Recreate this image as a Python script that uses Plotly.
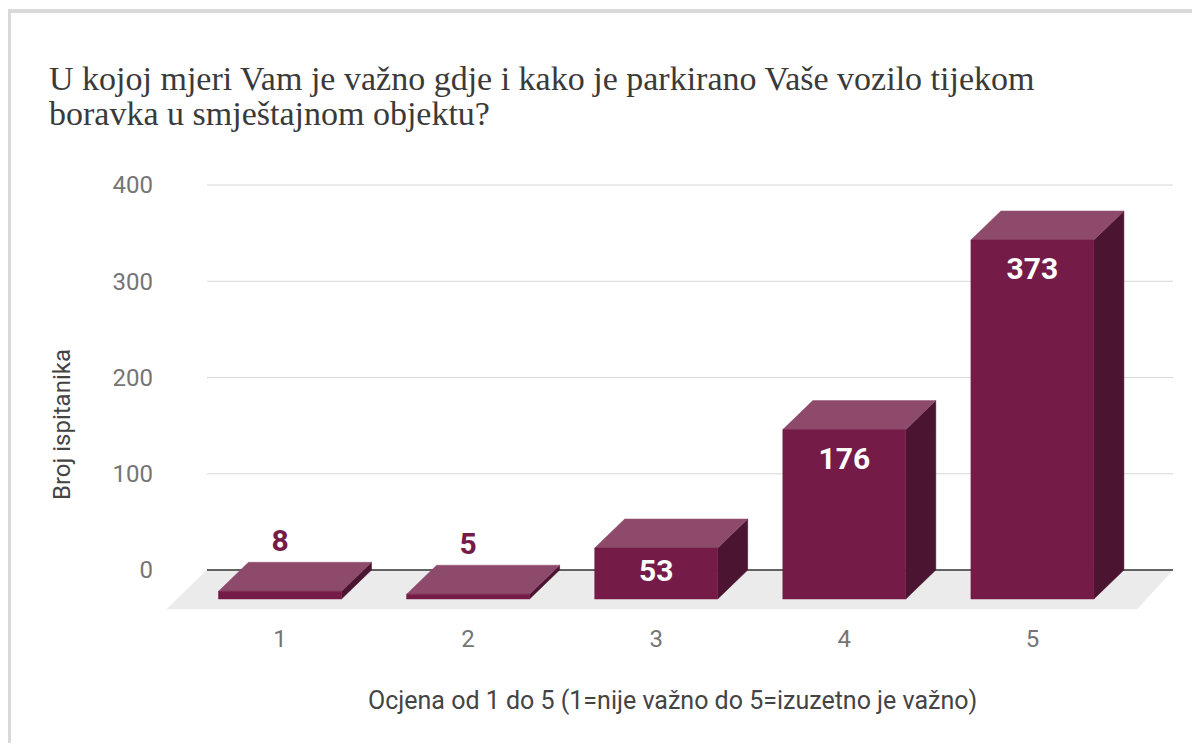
import plotly.graph_objects as go

# ---- data ----
categories = ["1", "2", "3", "4", "5"]
responses = [8, 5, 53, 176, 373]
y_ticks = [0, 100, 200, 300, 400]

title_lines = ["U kojoj mjeri Vam je važno gdje i kako je parkirano Vaše vozilo tijekom",
               "boravka u smještajnom objektu?"]
x_title = "Ocjena od 1 do 5 (1=nije važno do 5=izuzetno je važno)"
y_title = "Broj ispitanika"

# ---- palette ----
FRONT = "#741b47"
TOP = "#8e4a6b"
SIDE = "#4b1430"
FLOOR = "#ebebeb"
GRID = "#d6d6d6"
ZERO = "#333333"
TICK = "#757575"
TEXT = "#444444"

# ---- geometry (pixels -> axis units); page body adds an 8px margin ----
W, H = 1184, 735
L, R, T, B = 159, 19, 162, 131          # plot margins
plot_w, plot_h = W - L - R, H - T - B
px_per_cat = 188.1
x0 = 1 - (272 - L) / px_per_cat
x1 = x0 + plot_w / px_per_cat
px_per_unit = 0.9625                     # y pixels per respondent
y_zero_px = 562 - T                      # zero line from top of plot
y1 = y_zero_px / px_per_unit
y0 = -(plot_h - y_zero_px) / px_per_unit

ux = 1 / px_per_cat                      # x units per pixel
uy = 1 / px_per_unit                     # y units per pixel
bar_w = 123 * ux
dx, dy = 30 * ux, 29 * uy                # bar depth
fdx, fdy = 40 * ux, 39 * uy              # floor depth

fig = go.Figure()


def poly(xs, ys, color):
    fig.add_trace(go.Scatter(
        x=xs + [xs[0]], y=ys + [ys[0]], mode="lines", fill="toself",
        fillcolor=color, line=dict(color=color, width=0.5),
        hoverinfo="skip", showlegend=False,
    ))


# floor
back_l, back_r = x0 + fdx, x1
poly([back_l, back_r, back_r - fdx * 0.9, x0],
     [0, 0, -fdy, -fdy], FLOOR)

# gridlines + zero line on the back plane
for t in y_ticks:
    fig.add_trace(go.Scatter(
        x=[back_l, back_r], y=[t, t], mode="lines",
        line=dict(color=ZERO if t == 0 else GRID, width=1.5 if t == 0 else 1),
        hoverinfo="skip", showlegend=False,
    ))

# 3D bars
for i, v in enumerate(responses):
    c = i + 1
    xl, xr = c - bar_w / 2, c + bar_w / 2
    poly([xr, xr + dx, xr + dx, xr], [-dy, 0, v, v - dy], SIDE)
    poly([xl, xr, xr + dx, xl + dx], [v - dy, v - dy, v, v], TOP)
    poly([xl, xr, xr, xl], [-dy, -dy, v - dy, v - dy], FRONT)

# value labels
lab_x, lab_y, lab_c = [], [], []
for i, v in enumerate(responses):
    front_h = v * px_per_unit
    if front_h > 80:
        y = v - dy - 32 * uy
        col = "white"
    elif front_h > 30:
        y = v / 2 - dy
        col = "white"
    else:
        y = v + 19 * uy
        col = FRONT
    lab_x.append(i + 1)
    lab_y.append(y)
    lab_c.append(col)

fig.add_trace(go.Scatter(
    x=lab_x, y=lab_y, mode="text", text=[str(v) for v in responses],
    textfont=dict(family="Roboto", size=30, color=lab_c, weight="bold"),
    hoverinfo="skip", showlegend=False, cliponaxis=False,
))


def px_x(p):
    return (p - L) / plot_w


def px_y(p):
    return ((H - B) - p) / plot_h


annotations = [
    dict(text=x_title, xref="paper", yref="paper", x=px_x(664), y=px_y(692),
         xanchor="center", yanchor="middle",
         showarrow=False, font=dict(size=25, color=TEXT)),
    dict(text=y_title, xref="paper", yref="paper", x=px_x(54), y=px_y(417),
         xanchor="center", yanchor="middle",
         textangle=-90, showarrow=False, font=dict(size=24, color=TEXT)),
]
for line, yc in zip(title_lines, [70, 105]):
    annotations.append(dict(
        text=line, xref="paper", yref="paper", x=px_x(39), y=px_y(yc),
        xanchor="left", yanchor="middle", showarrow=False,
        font=dict(family="Liberation Serif", size=34, color="#3a3a3a")))

fig.update_layout(
    width=W, height=H,
    margin=dict(l=L, r=R, t=T, b=B),
    paper_bgcolor="white", plot_bgcolor="white",
    font=dict(family="Roboto", color=TEXT),
    xaxis=dict(
        range=[x0, x1], tickvals=[1, 2, 3, 4, 5], ticktext=categories,
        showgrid=False, zeroline=False, showline=False,
        ticks="", ticklabelstandoff=10,
        tickfont=dict(size=24, color=TICK),
    ),
    yaxis=dict(
        range=[y0, y1], tickvals=y_ticks,
        showgrid=False, zeroline=False, showline=False,
        ticks="", ticklabelstandoff=13,
        tickfont=dict(size=24, color=TICK),
    ),
    annotations=annotations,
    shapes=[
        dict(type="line", xref="paper", yref="paper",
             x0=px_x(-1), x1=px_x(W + 10), y0=px_y(3), y1=px_y(3),
             line=dict(color="#d9d9d9", width=4), layer="below"),
        dict(type="line", xref="paper", yref="paper",
             x0=px_x(1), x1=px_x(1), y0=px_y(1), y1=px_y(H + 10),
             line=dict(color="#d9d9d9", width=4), layer="below"),
    ],
)

fig.write_html("out.html")
